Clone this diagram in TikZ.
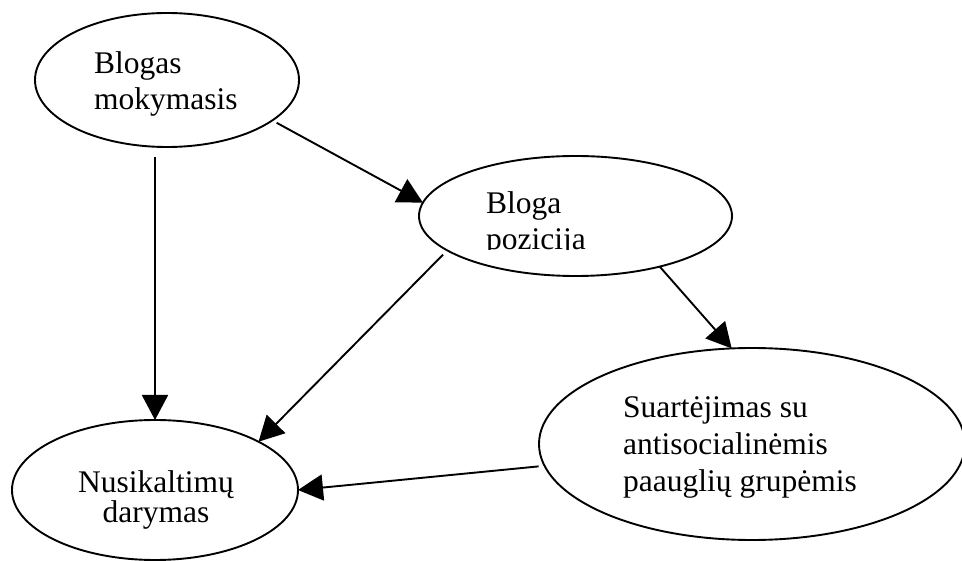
\documentclass[tikz,border=0pt]{standalone}
\usepackage{fontspec}
\setmainfont{Liberation Serif}
\usetikzlibrary{shapes.geometric,arrows.meta}
\tikzset{oval/.style={draw,ellipse,line width=1.9pt,inner sep=0pt,outer sep=0pt},
  txt/.style={inner sep=0pt,align=left,font=\fontsize{31.5}{36}\selectfont},
  arr/.style={line width=1.9pt,-{Triangle[length=25pt,width=26pt]}}}

\begin{document}
\begin{tikzpicture}[x=1pt,y=-1pt]
\useasboundingbox (0,0) rectangle (962,561);
\node[oval,minimum width=264pt,minimum height=134pt] (mok) at (167,80) {};
\node[oval,minimum width=313pt,minimum height=120pt] (poz) at (575.5,216) {};
\node[oval,minimum width=426pt,minimum height=192pt] (grup) at (752,444) {};
\node[oval,minimum width=286pt,minimum height=140pt] (nus) at (155,490) {};
\node[txt,anchor=west] (mokT) at (94,84) {Blogas\\mokymasis};
\begin{scope}
\clip (400,150) rectangle (700,250);
\node[txt,anchor=west] (pozT) at (486,223.7) {Bloga\\pozicija};
\end{scope}
\node[txt,anchor=west,font=\fontsize{31.5}{37}\selectfont] (grupT) at (623,447.7)
  {Suartėjimas su\\antisocialinėmis\\paauglių grupėmis};
\node[txt,align=center,font=\fontsize{31.5}{30}\selectfont] (nusT) at (156,499.7)
  {Nusikaltimų\\darymas};
% rodykles
\draw[arr,shorten <=10pt] (mok.south -| nus.north) -- (nus.north);
\draw[arr,shorten <=5pt] (mok.-21.5) -- (poz.175);
\draw[arr,shorten <=6pt] (poz.195.6) -- (nus.25.9);
\draw[arr] (poz.-31.1) -- (grup.102.3);
\draw[arr,shorten <=6pt] (grup.186.4) -- (nus.east);
\end{tikzpicture}
\end{document}
